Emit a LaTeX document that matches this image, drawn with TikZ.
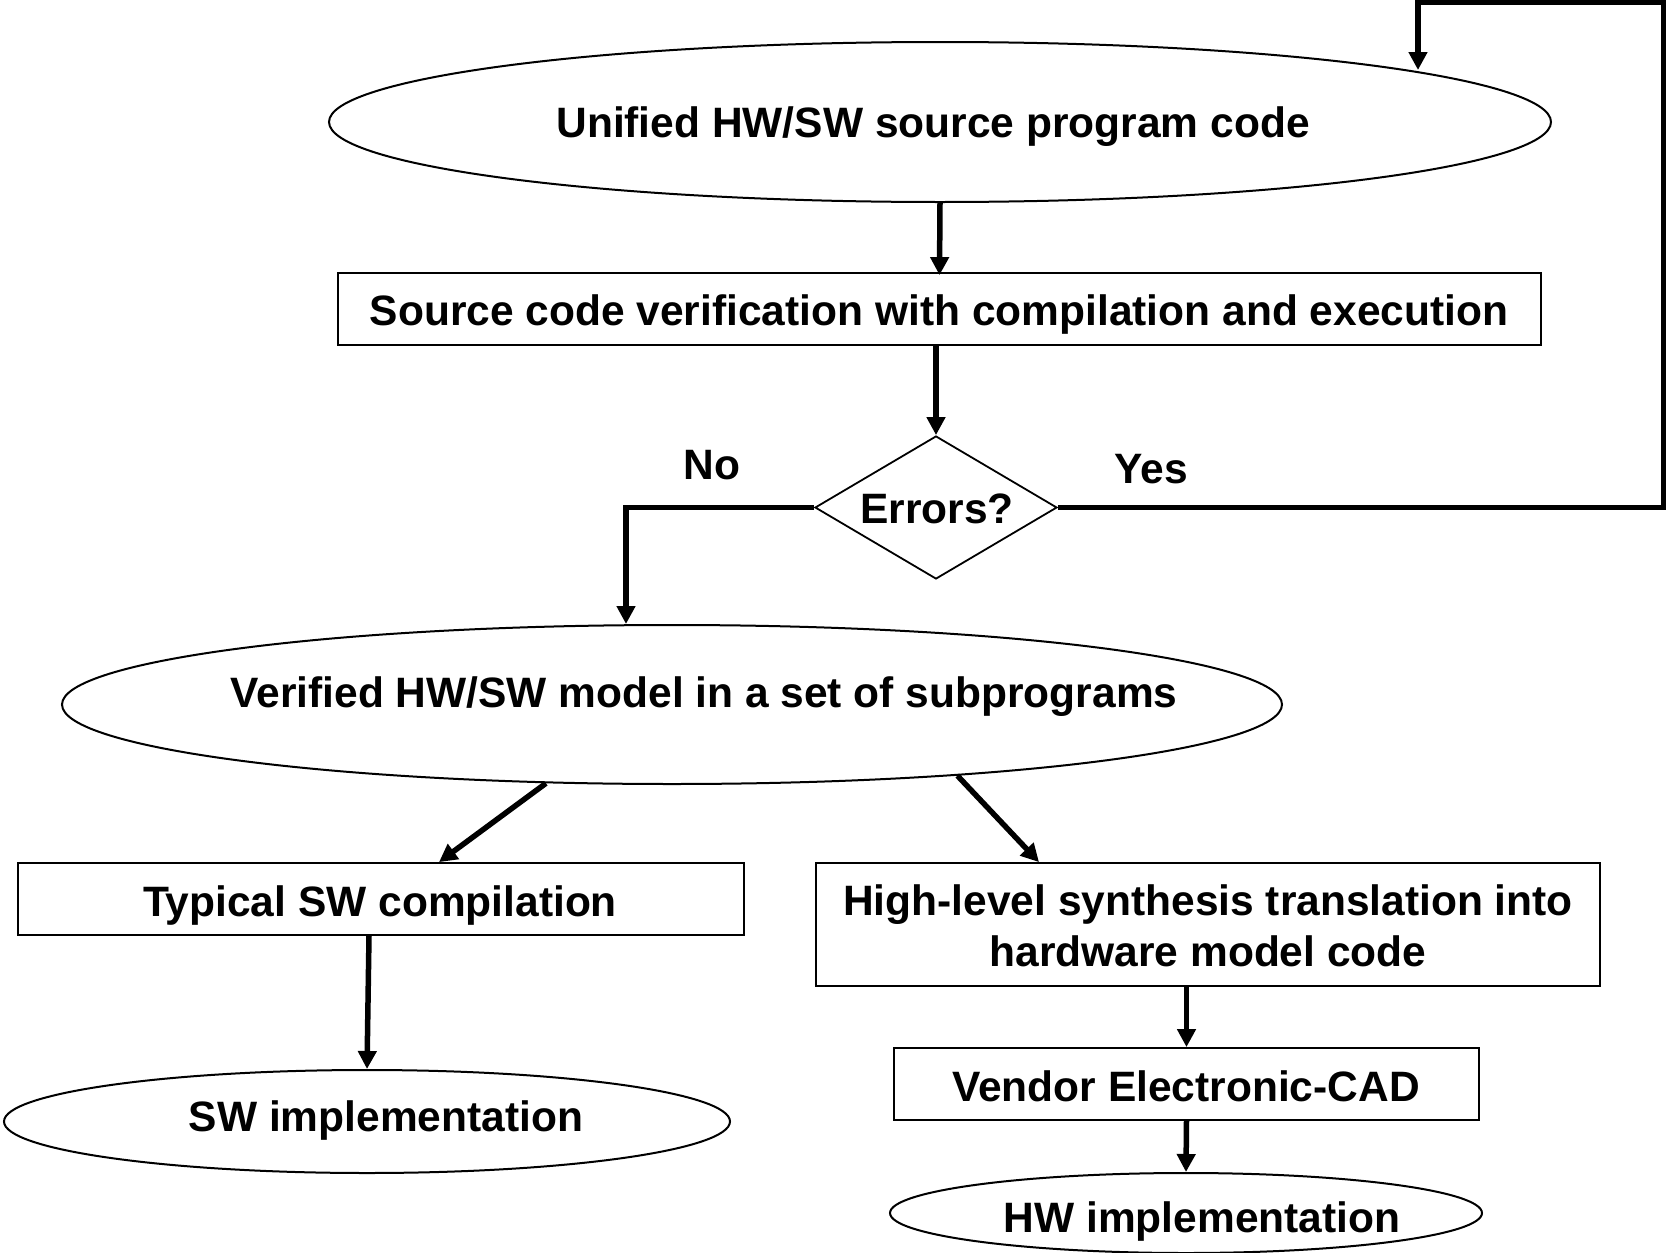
\documentclass[tikz,border=0pt]{standalone}
\usepackage{fontspec}
\setmainfont{Liberation Sans}
\usetikzlibrary{shapes.geometric,arrows.meta}
\begin{document}
\begin{tikzpicture}[x=1pt,y=-1pt,
  ell/.style={ellipse, draw, line width=2pt, inner sep=0pt},
  box/.style={rectangle, draw, line width=1.8pt, inner sep=0pt},
  dia/.style={diamond, draw, line width=1.8pt, inner sep=0pt},
  txt/.style={inner sep=0pt, anchor=base, font=\fontsize{42.5}{51}\selectfont\bfseries},
  mtxt/.style={inner sep=0pt, align=center, font=\fontsize{42.5}{51}\selectfont\bfseries},
  flow/.style={line width=5.5pt, -{Triangle[length=18pt,width=18pt]}},
  back/.style={line width=5.5pt, -{Triangle[length=18pt,width=18pt]}}]
\useasboundingbox (0,0) rectangle (1666,1253);

% shapes
\node[ell, minimum width=1222pt, minimum height=160pt] (src) at (940,122) {};
\node[box, minimum width=1203pt, minimum height=72pt] (ver) at (939.5,309) {};
\node[dia, minimum width=242pt, minimum height=143pt] (err) at (936,507.5) {};
\node[ell, minimum width=1220pt, minimum height=159pt] (model) at (672,704.5) {};
\node[box, minimum width=726pt, minimum height=72pt] (swc) at (381,899) {};
\node[box, minimum width=784pt, minimum height=123pt] (hls) at (1208,924.5) {};
\node[box, minimum width=585pt, minimum height=72pt] (cad) at (1186.5,1084) {};
\node[ell, minimum width=726pt, minimum height=103pt] (swi) at (367,1121.5) {};
\node[ell, minimum width=592pt, minimum height=80pt] (hwi) at (1186,1213) {};

% texts
\node[txt] (tsrc) at (933,137) {Unified HW/SW source program code};
\node[txt] (tver) at (939,325) {Source code verification with compilation and execution};
\node[txt] (terr) at (937,523) {Errors?};
\node[txt] (tno) at (712,479) {No};
\node[txt] (tyes) at (1151,483) {Yes};
\node[txt] (tmodel) at (704,707) {Verified HW/SW model in a set of subprograms};
\node[txt] (tswc) at (380,916) {Typical SW compilation};
\node[mtxt] (thls) at (1208,926) {High-level synthesis translation into\\hardware model code};
\node[txt] (tcad) at (1186,1101) {Vendor Electronic-CAD};
\node[txt] (tswi) at (386,1131) {SW implementation};
\node[txt] (thwi) at (1202,1232) {HW implementation};

% loop-back corners
\coordinate (noc) at (626,507.5);
\coordinate (yr) at (1664,507.5);
\coordinate (yt) at (1664,2);
\coordinate (yl) at (1418,2);
\coordinate (ytip) at (1418,70);

% connectors
\draw[flow] (src.south) -- ([yshift=-3pt]ver.north);
\draw[flow] (ver.south -| err.north) -- (err.north);
\draw[flow] (err.west) -- (noc) -- (noc |- model.north);
\draw[back] (err.east) -- (yr) -- (yt) -- (yl) -- (ytip);
\draw[flow] (model.212) -- ([xshift=58pt]swc.north);
\draw[flow] (model.-14) -- ([xshift=-169pt]hls.north);
\draw[flow] ([xshift=-12pt]swc.south) -- (swi.north);
\draw[flow] (hls.south -| cad.north) -- (cad.north);
\draw[flow] (cad.south) -- (hwi.north);
\end{tikzpicture}
\end{document}
